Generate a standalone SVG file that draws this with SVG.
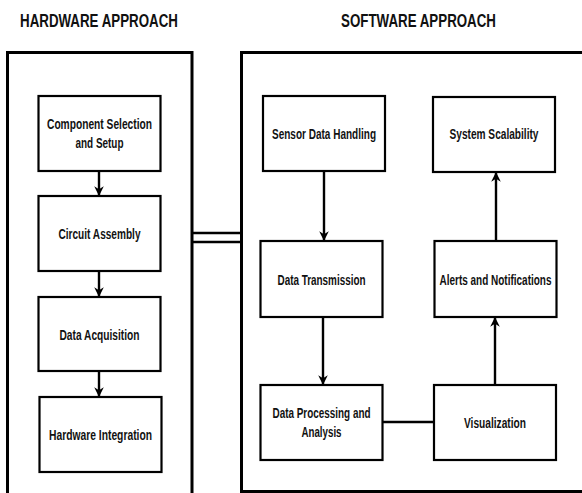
<svg xmlns="http://www.w3.org/2000/svg" width="582" height="493" viewBox="0 0 582 493">
<defs>
<style>
.cont{fill:none;stroke:#000;stroke-width:3}
.box{fill:#fff;stroke:#000;stroke-width:2.2}
.ln{fill:none;stroke:#000;stroke-width:2.4}
.t{font-family:"Liberation Sans",Arial,sans-serif;font-weight:bold;font-size:15px;fill:#111;text-anchor:middle}
.h{font-family:"Liberation Sans",Arial,sans-serif;font-weight:bold;font-size:18px;fill:#111}
</style>
<marker id="ah" viewBox="0 0 10 10" refX="9" refY="5" markerWidth="4" markerHeight="4" markerUnits="strokeWidth" orient="auto">
<path d="M0,0 L10,5 L0,10 L3,5 Z" fill="#000"/>
</marker>
</defs>
<rect width="582" height="493" fill="#fff"/>
<text class="h" x="20" y="27" textLength="158" lengthAdjust="spacingAndGlyphs">HARDWARE APPROACH</text>
<text class="h" x="341" y="27" textLength="155" lengthAdjust="spacingAndGlyphs">SOFTWARE APPROACH</text>
<g id="hardware-container"><path class="cont" d="M7.5,495 V52.5 H192 V495"/></g>
<g id="software-container"><path class="cont" d="M590,52.5 H241.5 V491.5 H590"/></g>
<g id="connectors">
<line class="ln" x1="192" y1="233" x2="241.5" y2="233"/>
<line class="ln" x1="192" y1="242" x2="241.5" y2="242"/>
<line class="ln" x1="99" y1="171" x2="99" y2="195" marker-end="url(#ah)"/>
<line class="ln" x1="99" y1="271" x2="99" y2="296" marker-end="url(#ah)"/>
<line class="ln" x1="99" y1="371" x2="99" y2="396" marker-end="url(#ah)"/>
<line class="ln" x1="324" y1="171" x2="324" y2="240" marker-end="url(#ah)"/>
<line class="ln" x1="323" y1="317" x2="323" y2="384" marker-end="url(#ah)"/>
<line class="ln" x1="495" y1="385" x2="495" y2="318" marker-end="url(#ah)"/>
<line class="ln" x1="496" y1="241" x2="496" y2="173" marker-end="url(#ah)"/>
<line class="ln" x1="383" y1="422" x2="434" y2="422" stroke-width="3"/>
</g>
<g id="component-selection"><rect class="box" x="38.5" y="96" width="122" height="75"/>
<text class="t" x="99.5" y="129" textLength="105" lengthAdjust="spacingAndGlyphs">Component Selection</text>
<text class="t" x="99.5" y="148" textLength="48" lengthAdjust="spacingAndGlyphs">and Setup</text></g>
<g id="circuit-assembly"><rect class="box" x="38.5" y="196" width="122" height="75"/>
<text class="t" x="99.5" y="239" textLength="82" lengthAdjust="spacingAndGlyphs">Circuit Assembly</text></g>
<g id="data-acquisition"><rect class="box" x="38.5" y="297" width="122" height="74"/>
<text class="t" x="99.5" y="339.5" textLength="80" lengthAdjust="spacingAndGlyphs">Data Acquisition</text></g>
<g id="hardware-integration"><rect class="box" x="39.5" y="397" width="122" height="75"/>
<text class="t" x="100.5" y="439.5" textLength="103" lengthAdjust="spacingAndGlyphs">Hardware Integration</text></g>
<g id="sensor-data-handling"><rect class="box" x="263" y="96" width="122" height="75"/>
<text class="t" x="324" y="138.5" textLength="104" lengthAdjust="spacingAndGlyphs">Sensor Data Handling</text></g>
<g id="system-scalability"><rect class="box" x="433" y="97" width="122" height="75"/>
<text class="t" x="494" y="139" textLength="89" lengthAdjust="spacingAndGlyphs">System Scalability</text></g>
<g id="data-transmission"><rect class="box" x="260.5" y="241" width="122" height="76"/>
<text class="t" x="321.5" y="284.5" textLength="88" lengthAdjust="spacingAndGlyphs">Data Transmission</text></g>
<g id="alerts-notifications"><rect class="box" x="434.5" y="241" width="122" height="76"/>
<text class="t" x="495.5" y="284.5" textLength="112" lengthAdjust="spacingAndGlyphs">Alerts and Notifications</text></g>
<g id="data-processing"><rect class="box" x="260.5" y="385" width="122" height="75"/>
<text class="t" x="321.5" y="418" textLength="98" lengthAdjust="spacingAndGlyphs">Data Processing and</text>
<text class="t" x="321.5" y="436.5" textLength="40" lengthAdjust="spacingAndGlyphs">Analysis</text></g>
<g id="visualization"><rect class="box" x="434" y="385" width="122" height="75"/>
<text class="t" x="495" y="427.5" textLength="62" lengthAdjust="spacingAndGlyphs">Visualization</text></g>
</svg>
